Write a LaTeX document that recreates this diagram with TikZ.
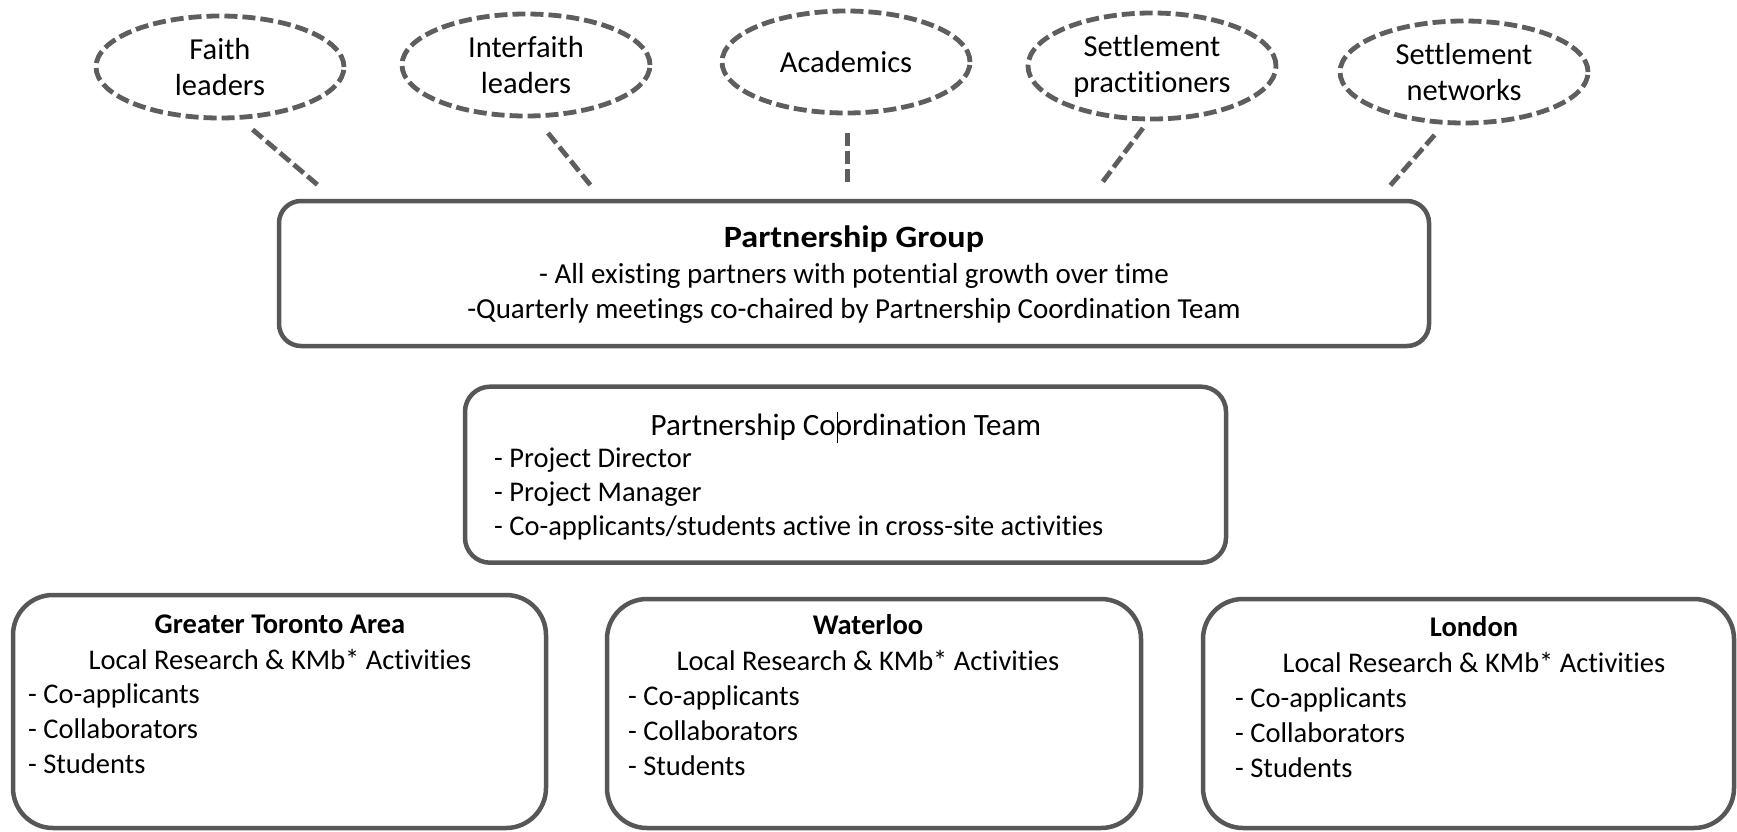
\documentclass[tikz,border=0pt]{standalone}
\usepackage{fontspec}
\usepackage{graphicx}
\setmainfont{Carlito}[Ligatures={NoCommon}]
\usetikzlibrary{shapes.geometric,calc}
\definecolor{bordc}{HTML}{575757}
\definecolor{dashc}{HTML}{5E5E5E}
\begin{document}
\begin{tikzpicture}[x=1pt,y=-1pt,
  ell/.style={ellipse, draw=dashc, line width=4.8pt, dash pattern=on 13pt off 5pt,
    minimum width=248pt, minimum height=102pt, inner sep=0pt, align=center,
    font=\fontsize{30.5}{36}\selectfont},
  conn/.style={draw=dashc, line width=4.8pt, dash pattern=on 13pt off 5pt},
  rbox/.style={draw=bordc, line width=4.5pt, rounded corners=#1, inner sep=0pt},
  txt/.style={inner sep=0pt, font=\fontsize{28.5}{35}\selectfont},
  ptxt/.style={inner sep=0pt, font=\fontsize{29}{35}\selectfont},
  ttl/.style={inner sep=0pt, font=\fontsize{28.5}{35}\selectfont\bfseries},
  bigt/.style={inner sep=0pt, font=\fontsize{31}{37}\selectfont}
]
\useasboundingbox (0,0) rectangle (1737,832);

% stakeholder ellipses
\node[ell] (e1) at (220,67) {Faith\\leaders};
\node[ell] (e2) at (526,65) {Interfaith\\leaders};
\node[ell] (e3) at (846,62) {Academics};
\node[ell, minimum height=106pt] (e4) at (1152,66) {Settlement\\practitioners};
\node[ell] (e5) at (1464,72) {Settlement\\networks};

% boxes
\node[rbox=22pt, minimum width=1150pt, minimum height=145pt] (pg) at (854,273.5) {};
\node[rbox=25pt, minimum width=761pt, minimum height=176pt] (pct) at (845.5,474.7) {};
\node[rbox=40pt, minimum width=533pt, minimum height=233pt] (gta) at (279.5,711.5) {};
\node[rbox=40pt, minimum width=534pt, minimum height=229pt] (wat) at (874,713.5) {};
\node[rbox=40pt, minimum width=531pt, minimum height=229pt] (lon) at (1468.5,713.5) {};

% dashed connectors
\draw[conn] ($(e1.center)+(32.6,62.6)$) -- ($(pg.north)+(-533,-11)$);
\draw[conn] ($(e2.center)+(22,68)$) -- ($(pg.north)+(-261,-10.5)$);
\draw[conn] ($(e3.center)+(1.5,71)$) -- ($(pg.north)+(-6.5,-13)$);
\draw[conn] ($(e4.center)+(-9,62)$) -- ($(pg.north)+(248,-16)$);
\draw[conn] ($(e5.center)+(-29.4,63)$) -- ($(pg.north)+(536,-13)$);

% Partnership Group text
\node[inner sep=0pt, anchor=base] (pg1) at (854,247) {\scalebox{1.1}[1]{\fontsize{31}{37}\selectfont\bfseries Partnership Group}};
\node[ptxt, anchor=base] (pg2) at (854,283) {- All existing partners with potential growth over time};
\node[ptxt, anchor=base] (pg3) at (854,318) {-Quarterly meetings co-chaired by Partnership Coordination Team};

% Partnership Coordination Team text
\node[bigt, anchor=base] (pc1) at (846,435) {Partnership Co\rlap{\kern0.03em\rule[-0.27em]{0.05em}{1.0em}}ordination Team};
\node[txt, anchor=base west] (pc2) at (494,467) {- Project Director};
\node[txt, anchor=base west] (pc3) at (494,501) {- Project Manager};
\node[txt, anchor=base west] (pc4) at (494,535) {- Co-applicants/students active in cross-site activities};

% GTA
\node[ttl, anchor=base] (g1) at (280,633) {Greater Toronto Area};
\node[txt, anchor=base] (g2) at (280,669) {Local Research \& KMb* Activities};
\node[txt, anchor=base west] (g3) at (28,703) {- Co-applicants};
\node[txt, anchor=base west] (g4) at (28,738) {- Collaborators};
\node[txt, anchor=base west] (g5) at (28,773) {- Students};

% Waterloo
\node[ttl, anchor=base] (w1) at (868,634) {Waterloo};
\node[txt, anchor=base] (w2) at (868,670) {Local Research \& KMb* Activities};
\node[txt, anchor=base west] (w3) at (628,705) {- Co-applicants};
\node[txt, anchor=base west] (w4) at (628,740) {- Collaborators};
\node[txt, anchor=base west] (w5) at (628,775) {- Students};

% London
\node[ttl, anchor=base] (l1) at (1474,636) {London};
\node[txt, anchor=base] (l2) at (1474,672) {Local Research \& KMb* Activities};
\node[txt, anchor=base west] (l3) at (1235,707) {- Co-applicants};
\node[txt, anchor=base west] (l4) at (1235,742) {- Collaborators};
\node[txt, anchor=base west] (l5) at (1235,777) {- Students};
\end{tikzpicture}
\end{document}
